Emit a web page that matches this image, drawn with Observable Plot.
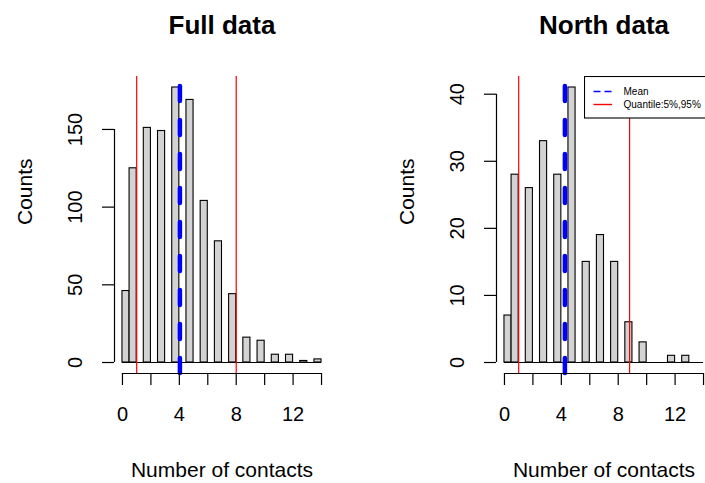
<!DOCTYPE html>
<html><head><meta charset="utf-8">
<script src="https://cdn.jsdelivr.net/npm/d3@7"></script>
<script src="https://cdn.jsdelivr.net/npm/@observablehq/plot@0.6"></script>
<style>
html,body{margin:0;padding:0;background:#fff;}
#wrap{position:relative;width:705px;height:483px;overflow:hidden;font-family:Arial,"Liberation Sans",sans-serif;background:#fff;}
.panel{position:absolute;top:0;}
#legend{position:absolute;left:583.5px;top:75.5px;}
</style></head><body><div id="wrap"></div>
<script>
// ---- data ----
const contactValues = [0,1,2,3,4,5,6,7,8,9,10,11,12,13,14];
const fullCounts  = [46,125,151,149,177,169,104,78,44,16,14,5,5,1,2];
const northCounts = [7,28,26,33,28,41,15,19,15,6,3,0,1,1,0];
const fullMean = 4.04;
const fullQuantiles = [1, 8];
const northMean = 4.25;
const northQuantiles = [1, 8.8];
const panelTitles = ["Full data", "North data"];
const xLabel = "Number of contacts";
const yLabel = "Counts";
const xTicks = [0,2,4,6,8,10,12,14];
const xTickLabels = [0,4,8,12];
const fullYTicks = [0,50,100,150];
const northYTicks = [0,10,20,30,40];
const legendLabels = ["Mean", "Quantile:5%,95%"];

const FONT = 'Arial, "Liberation Sans", sans-serif';

function panel({title, counts, mean, quantiles, yTicks}) {
  // R hist with breaks every 0.5, right-closed: value 0 -> [0,0.5], value k -> (k-0.5,k]
  const bins = contactValues
    .map((v, i) => ({x1: v === 0 ? 0 : v - 0.5, x2: v === 0 ? 0.5 : v, count: counts[i]}))
    .filter(d => d.count > 0);
  const xMin = d3.min(contactValues), xMax = d3.max(contactValues);
  const yMax = d3.max(counts);
  const xPad = (xMax - xMin) * 0.04, yPad = yMax * 0.04;
  const xDom = [xMin - xPad, xMax + xPad], yDom = [-yPad, yMax + yPad];
  const axisStroke = {stroke: "#000", strokeWidth: 1.2};
  return Plot.plot({
    width: 382, height: 483,
    marginLeft: 114, marginRight: 53, marginTop: 76, marginBottom: 110,
    x: {domain: xDom},
    y: {domain: yDom},
    style: {fontFamily: FONT, fontSize: "20px", background: "transparent", overflow: "visible", color: "#000"},
    marks: [
      Plot.rectY(bins, {x1: "x1", x2: "x2", y1: 0, y2: "count", fill: "#d3d3d3", stroke: "#000", strokeWidth: 1.1}),
      Plot.ruleY([0], {x1: xMin, x2: xMax, stroke: "#000", strokeWidth: 1.1}),
      Plot.ruleX(quantiles, {y1: yDom[0], y2: yDom[1], stroke: "#ff0000", strokeWidth: 1.2}),
      Plot.ruleX([mean], {y1: yDom[0], y2: yDom[1], stroke: "#0000ff", strokeWidth: 4.5, strokeDasharray: "15,19", strokeLinecap: "round"}),
      Plot.ruleY([yDom[0]], {x1: xMin, x2: xMax, ...axisStroke}),
      Plot.ruleX([xDom[0]], {y1: yTicks[0], y2: yTicks[yTicks.length - 1], ...axisStroke}),
      Plot.axisX({ticks: xTicks, tickSize: 12, tickPadding: 21, fontSize: 20, label: null,
        tickFormat: d => xTickLabels.includes(d) ? String(d) : "", ...axisStroke, fill: "#000"}),
      Plot.axisY({ticks: yTicks, tickSize: 12, fill: "none", label: null, ...axisStroke}),
      Plot.text(yTicks, {y: d => d, text: d => String(d), frameAnchor: "left", dx: -33, rotate: -90,
        lineAnchor: "bottom", textAnchor: "middle", fontSize: 20, fill: "#000"}),
      Plot.text([yLabel], {frameAnchor: "left", dx: -83, rotate: -90, lineAnchor: "bottom", fontSize: 21, fill: "#000"}),
      Plot.text([xLabel], {frameAnchor: "bottom", dy: 103, lineAnchor: "bottom", fontSize: 21, fill: "#000"}),
      Plot.text([title], {frameAnchor: "top", dy: -43, lineAnchor: "bottom", fontSize: 26, fontWeight: "bold", fill: "#000"})
    ]
  });
}

const wrap = document.getElementById("wrap");
const left = panel({title: panelTitles[0], counts: fullCounts, mean: fullMean, quantiles: fullQuantiles, yTicks: fullYTicks});
left.classList.add("panel"); left.style.left = "0px";
wrap.appendChild(left);
const right = panel({title: panelTitles[1], counts: northCounts, mean: northMean, quantiles: northQuantiles, yTicks: northYTicks});
right.classList.add("panel"); right.style.left = "381.7px";
wrap.appendChild(right);

// legend (top-right of the North panel)
const lg = d3.select(wrap).append("svg").attr("id", "legend").attr("width", 130).attr("height", 44);
lg.append("rect").attr("x", 0.5).attr("y", 0.5).attr("width", 128).attr("height", 41.5)
  .attr("fill", "#fff").attr("stroke", "#000").attr("stroke-width", 1.1);
const legendStyles = [
  {stroke: "#0000ff", dash: "7,4", y: 15.5},
  {stroke: "#ff0000", dash: null, y: 28.5}
];
legendLabels.forEach((lab, i) => {
  const s = legendStyles[i];
  lg.append("line").attr("x1", 9.5).attr("x2", 28).attr("y1", s.y).attr("y2", s.y)
    .attr("stroke", s.stroke).attr("stroke-width", 1.4).attr("stroke-dasharray", s.dash);
  lg.append("text").attr("x", 39.5).attr("y", s.y + 3.3).attr("font-family", FONT)
    .attr("font-size", 10).attr("fill", "#000").text(lab);
});
</script></body></html>
